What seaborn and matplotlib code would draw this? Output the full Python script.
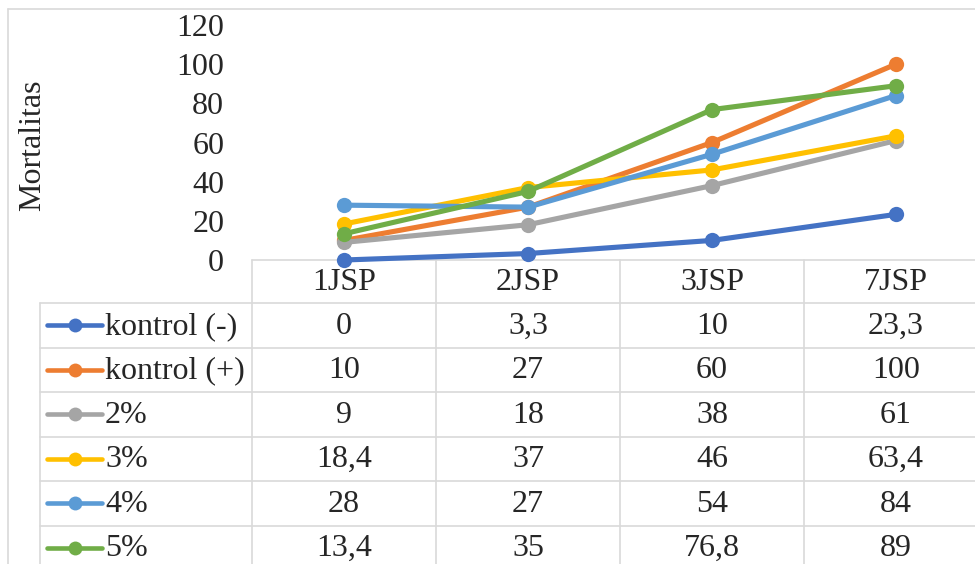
import matplotlib
matplotlib.use('Agg')
import matplotlib.pyplot as plt
import seaborn as sns
import pandas as pd
import numpy as np

days = ['1JSP', '2JSP', '3JSP', '7JSP']
series = ['kontrol (-)', 'kontrol (+)', '2%', '3%', '4%', '5%']
kontrol_neg = [0, 3.3, 10, 23.3]
kontrol_pos = [10, 27, 60, 100]
conc_2 = [9, 18, 38, 61]
conc_3 = [18.4, 37, 46, 63.4]
conc_4 = [28, 27, 54, 84]
conc_5 = [13.4, 35, 76.8, 89]
yticks = [0, 20, 40, 60, 80, 100, 120]
y_label = 'Mortalitas'
colors = ['#4472C4', '#ED7D31', '#A5A5A5', '#FFC000', '#5B9BD5', '#70AD47']

values = [kontrol_neg, kontrol_pos, conc_2, conc_3, conc_4, conc_5]
rows = []
for s, vals in zip(series, values):
    for d, v in zip(days, vals):
        rows.append((d, s, v))
df = pd.DataFrame(rows, columns=['day', 'series', 'value'])

sns.set_theme(style='white')
plt.rcParams['font.family'] = ['Liberation Serif', 'DejaVu Serif']

W, H = 975, 564
FS = 23
GRID = '#D9D9D9'
fig = plt.figure(figsize=(W / 100, H / 100), dpi=100)

# overlay in pixel coordinates for table
ov = fig.add_axes([0, 0, 1, 1], zorder=0)
ov.set_xlim(0, W)
ov.set_ylim(H, 0)
ov.axis('off')

ax_left, ax_right, ax_top, ax_bottom = 252, 988, 25, 260
ax = fig.add_axes([ax_left / W, 1 - ax_bottom / H, (ax_right - ax_left) / W,
                   (ax_bottom - ax_top) / H], zorder=1)
ax.patch.set_alpha(0)
sns.lineplot(data=df, x='day', y='value', hue='series', hue_order=series,
             palette=colors, marker='o', markersize=11, linewidth=3.7,
             markeredgewidth=0, ax=ax, legend=False, sort=False)
for ln in ax.lines:
    ln.set_clip_on(False)
ax.set_xlim(-0.5, len(days) - 0.5)
ax.set_ylim(0, 120)
ax.set_yticks(yticks)
ax.set_yticklabels([str(t) for t in yticks], fontsize=FS)
ax.tick_params(axis='y', length=0, pad=20)
ax.set_xticks([])
ax.set_xlabel('')
ax.set_ylabel('')
for sp in ax.spines.values():
    sp.set_visible(False)

fig.text(33 / W, 1 - 145 / H, y_label, rotation=90, ha='center', va='center',
         fontsize=FS)

lw = 1.2
# outer chart border
ov.plot([8, 8], [9, H], color=GRID, lw=lw)
ov.plot([8, W], [9, 9], color=GRID, lw=lw)

col_w = (ax_right - ax_left) / len(days)
col_edges = [ax_left + i * col_w for i in range(len(days) + 1)]
col_centers = [ax_left + (i + 0.5) * col_w for i in range(len(days))]
header_top, header_bottom = 260, 303
row_h = 44.5
row_tops = [header_bottom + i * row_h for i in range(len(series) + 1)]
legend_left = 40

ov.plot([ax_left, W], [header_top, header_top], color=GRID, lw=lw)
for yt in row_tops:
    ov.plot([legend_left, W], [yt, yt], color=GRID, lw=lw)
for xe in col_edges:
    ov.plot([xe, xe], [header_top, H], color=GRID, lw=lw)
ov.plot([legend_left, legend_left], [header_bottom, H], color=GRID, lw=lw)

for xc, d in zip(col_centers, days):
    ov.text(xc, (header_top + header_bottom) / 2 + 1, d, ha='center',
            va='center', fontsize=FS)

def fmt(v):
    s = ('%g' % v)
    return s.replace('.', ',')

for i, (s, vals, c) in enumerate(zip(series, values, colors)):
    yc = row_tops[i] + row_h / 2
    ov.plot([47, 102], [yc, yc], color=c, lw=3.3, solid_capstyle='round')
    ov.plot([75], [yc], 'o', color=c, markersize=10, markeredgewidth=0)
    ov.text(105, yc + 1, s, ha='left', va='center', fontsize=FS)
    for xc, v in zip(col_centers, vals):
        ov.text(xc, yc + 1, fmt(v), ha='center', va='center', fontsize=FS)

fig.savefig('out.png', dpi=100)
